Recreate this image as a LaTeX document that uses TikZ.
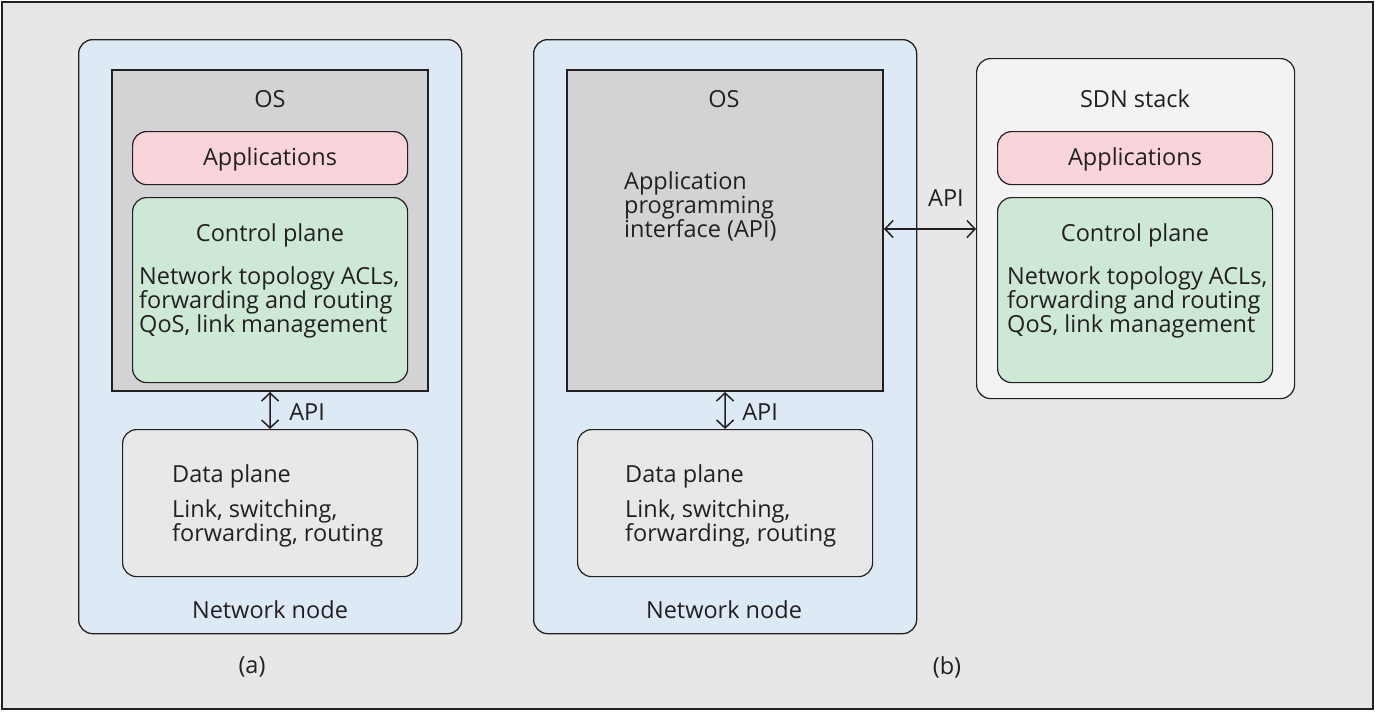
\documentclass[tikz,border=0pt]{standalone}
\usepackage{fontspec}
\setmainfont{Open Sans}
\usetikzlibrary{arrows.meta,positioning,calc}
\definecolor{bggray}{HTML}{E7E7E7}
\definecolor{nodeblue}{HTML}{DDEAF5}
\definecolor{osgray}{HTML}{D3D3D5}
\definecolor{apppink}{HTML}{FAD4DB}
\definecolor{ctrlgreen}{HTML}{CDE8D5}
\definecolor{datagray}{HTML}{E8E8E8}
\definecolor{sdngray}{HTML}{F3F3F3}
\definecolor{inkdark}{HTML}{231F20}
\tikzset{
    every node/.style={font=\fontsize{23.5}{24}\selectfont,text=inkdark,inner sep=0pt},
    outerframe/.style={draw=inkdark,line width=1.3pt,fill=bggray},
    netnode/.style={rounded corners=14pt,draw=inkdark,line width=1.3pt,fill=nodeblue,anchor=north west,minimum width=383pt,minimum height=594pt},
    osbox/.style={draw=inkdark,line width=2pt,fill=osgray,anchor=north west,minimum width=316pt,minimum height=321pt},
    appbox/.style={rounded corners=14pt,draw=inkdark,line width=1.2pt,fill=apppink,anchor=north west,minimum width=275pt,minimum height=53pt},
    ctrlbox/.style={rounded corners=14pt,draw=inkdark,line width=1.2pt,fill=ctrlgreen,anchor=north west,minimum width=275pt,minimum height=185pt},
    databox/.style={rounded corners=14pt,draw=inkdark,line width=1.2pt,fill=datagray,anchor=north west,minimum width=295pt,minimum height=147pt},
    sdnbox/.style={rounded corners=14pt,draw=inkdark,line width=1.2pt,fill=sdngray,anchor=north west,minimum width=318pt,minimum height=340pt},
    body/.style={align=left,anchor=west},
    apiarrow/.style={{Straight Barb[length=8pt,width=17pt]}-{Straight Barb[length=8pt,width=17pt]},line width=1.5pt,draw=inkdark}
}
\begin{document}
\begin{tikzpicture}[x=1pt,y=-1pt]
    \useasboundingbox (0,0) rectangle (1376,712);
    \draw[outerframe] (2,2) rectangle (1373,709);

    % (a) classic network node
    \node[netnode] (nodeA) at (78,39) {};
    \node[osbox] (osA) at (111,69) {};
    \node[appbox] (appA) at (132,131) {};
    \node[ctrlbox] (ctrlA) at (132,197) {};
    \node[databox] (dataA) at (122,429) {};
    \node (osAtxt) at (270,99) {OS};
    \node (appAtxt) at (270,159) {Applications};
    \node (ctrlAtxt) at (270,235) {Control plane};
    \node[body] (ctrlAbody) at (139,302) {Network topology ACLs,\\forwarding and routing\\QoS, link management};
    \node[body] (dataAtxt) at (172,476) {Data plane};
    \node[body] (dataAbody) at (172,523) {Link, switching,\\forwarding, routing};
    \node (nodeAtxt) at (270,610) {Network node};
    \node (capA) at (252,667) {(a)};
    \draw[apiarrow] (osA.south) -- (dataA.north);
    \node[anchor=west] (apiA) at ($(osA.south)!0.5!(dataA.north)+(19,2)$) {API};

    % (b) SDN network node and stack
    \node[netnode] (nodeB) at (533,39) {};
    \node[osbox] (osB) at (566,69) {};
    \node[databox] (dataB) at (577,429) {};
    \node (osBtxt) at (724,99) {OS};
    \node[body] (osBbody) at (624,206) {Application\\programming\\interface (API)};
    \node[body] (dataBtxt) at (625,476) {Data plane};
    \node[body] (dataBbody) at (625,523) {Link, switching,\\forwarding, routing};
    \node (nodeBtxt) at (724,610) {Network node};
    \node (capB) at (947,667) {(b)};
    \draw[apiarrow] (osB.south) -- (dataB.north);
    \node[anchor=west] (apiB) at ($(osB.south)!0.5!(dataB.north)+(17,2)$) {API};

    \node[sdnbox] (sdn) at (976,58) {};
    \node[appbox] (appS) at (997,131) {};
    \node[ctrlbox] (ctrlS) at (997,197) {};
    \node (sdntxt) at (1135,99) {SDN stack};
    \node (appStxt) at (1135,159) {Applications};
    \node (ctrlStxt) at (1135,235) {Control plane};
    \node[body] (ctrlSbody) at (1007,302) {Network topology ACLs,\\forwarding and routing\\QoS, link management};

    \coordinate (apiline) at (0,229);
    \draw[apiarrow] (osB.east |- apiline) -- (sdn.west |- apiline);
    \node (apiS) at (946,198) {API};
\end{tikzpicture}
\end{document}
